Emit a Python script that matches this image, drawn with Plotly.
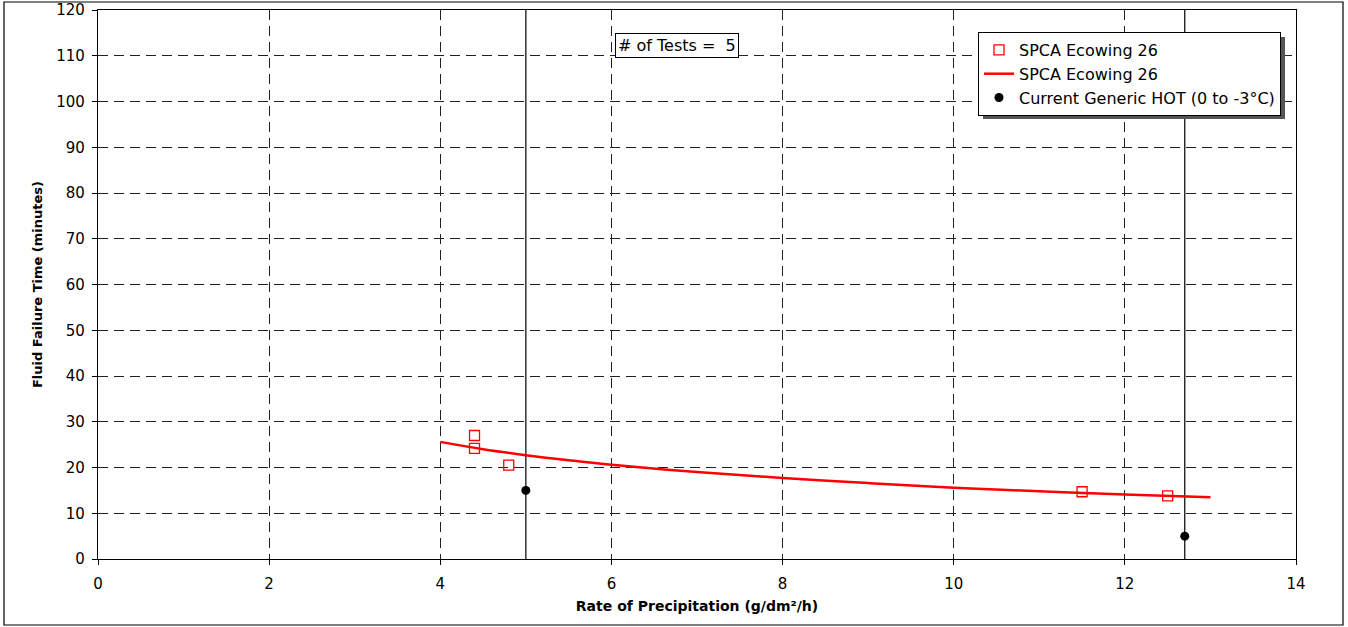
import plotly.graph_objects as go

# Data
test_x = [4.4, 4.4, 4.8, 11.5, 12.5]
test_y = [27.0, 24.2, 20.5, 14.7, 13.8]

trend_x = [4, 4.5, 5, 5.5, 6, 7, 8, 9, 10, 11, 12, 13]
trend_y = [25.6, 24.0, 22.7, 21.6, 20.6, 19.0, 17.7, 16.6, 15.6, 14.8, 14.1, 13.5]

hot_x = [5.0, 12.7]
hot_y = [15.0, 5.0]

vline_x = [5.0, 12.7]

x_ticks = [0, 2, 4, 6, 8, 10, 12, 14]
y_ticks = [0, 10, 20, 30, 40, 50, 60, 70, 80, 90, 100, 110, 120]

FONT = "DejaVu Sans"
L, R, T, B = 98, 1296, 10, 559
PW, PH = R - L, B - T


def px(xp):
    return (xp - L) / PW


def py(yp):
    return (B - yp) / PH


fig = go.Figure()

fig.add_trace(go.Scatter(
    x=test_x, y=test_y, mode="markers", name="SPCA Ecowing 26",
    marker=dict(symbol="square-open", size=10, color="red", line=dict(width=1.3, color="red")),
))
fig.add_trace(go.Scatter(
    x=trend_x, y=trend_y, mode="lines", name="SPCA Ecowing 26",
    line=dict(color="red", width=2.5, shape="spline"),
))
fig.add_trace(go.Scatter(
    x=hot_x, y=hot_y, mode="markers", name="Current Generic HOT (0 to -3°C)",
    marker=dict(symbol="circle", size=9, color="black"),
))

shapes = []
for vx in vline_x:
    shapes.append(dict(type="line", xref="x", yref="paper", x0=vx, x1=vx, y0=0, y1=1,
                       line=dict(color="black", width=1.2), layer="below"))
# outer border
shapes.append(dict(type="rect", xref="paper", yref="paper",
                   x0=px(4), x1=px(1343), y0=py(625), y1=py(2),
                   line=dict(color="black", width=1.2)))
# legend shadow
shapes.append(dict(type="rect", xref="paper", yref="paper",
                   x0=px(983), x1=px(1285), y0=py(119), y1=py(37),
                   fillcolor="#555555", line=dict(width=0), layer="above"))

fig.update_layout(
    width=1348, height=627,
    margin=dict(l=L, r=1348 - R, t=T, b=627 - B),
    paper_bgcolor="white", plot_bgcolor="white",
    font=dict(family=FONT, size=15, color="black"),
    showlegend=True,
    legend=dict(x=px(978), y=py(32), xanchor="left", yanchor="top",
                bgcolor="white", bordercolor="black", borderwidth=1,
                font=dict(family=FONT, size=16), tracegroupgap=0, itemwidth=30),
    xaxis=dict(range=[0, 14], tickvals=x_ticks, ticks="outside", ticklen=5,
               tickcolor="black", showline=True, linecolor="black", linewidth=1.2, mirror=True,
               showgrid=True, gridcolor="#222222", griddash="10px,6px", gridwidth=1,
               zeroline=False, automargin=False, ticklabelstandoff=6,
               title=dict(text="<b>Rate of Precipitation (g/dm²/h)</b>", font=dict(size=14), standoff=9)),
    yaxis=dict(range=[0, 120], tickvals=y_ticks, ticks="outside", ticklen=5,
               tickcolor="black", showline=True, linecolor="black", linewidth=1.2, mirror=True,
               showgrid=True, gridcolor="#222222", griddash="10px,6px", gridwidth=1,
               zeroline=False, automargin=False, ticklabelstandoff=4,
               title=dict(text="<b>Fluid Failure Time (minutes)</b>", font=dict(size=13), standoff=10)),
    shapes=shapes,
    annotations=[dict(x=px(677), y=py(46), xref="paper", yref="paper",
                      xanchor="center", yanchor="middle",
                      text="# of Tests =  5", showarrow=False, bgcolor="white",
                      bordercolor="black", borderwidth=1, borderpad=2,
                      font=dict(family=FONT, size=16))],
)

fig.write_html("out.html", config={"displayModeBar": False},
               post_script="document.body.style.margin='0';document.body.style.overflow='hidden';")
